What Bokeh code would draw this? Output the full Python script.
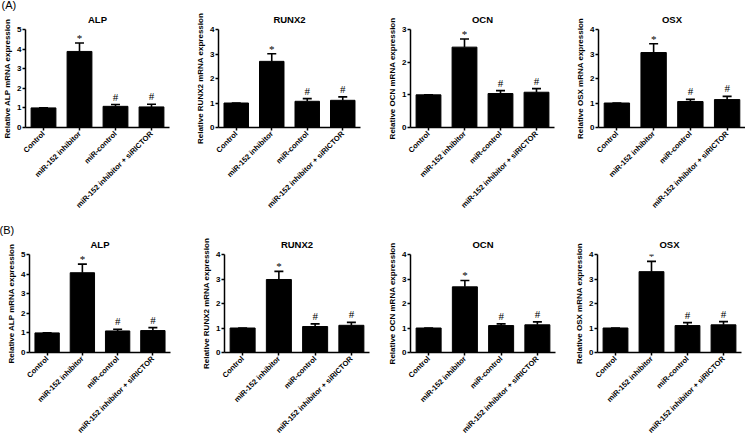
import math
from bokeh.plotting import figure
from bokeh.models import (Range1d, FactorRange, ColumnDataSource, Whisker,
                          TeeHead, LabelSet, FixedTicker, Title)
from bokeh.layouts import column, row
from bokeh.embed import file_html
from bokeh.resources import INLINE

categories = ["Control", "miR-152 inhibitor", "miR-control",
              "miR-152 inhibitor + siRICTOR"]
genes = ["ALP", "RUNX2", "OCN", "OSX"]
marks = ["", "*", "#", "#"]

# Panel (A)
a_alp_mean = [1.00, 3.88, 1.08, 1.05]
a_alp_sem = [0.00, 0.43, 0.09, 0.14]
a_runx2_mean = [1.00, 2.70, 1.07, 1.11]
a_runx2_sem = [0.00, 0.31, 0.11, 0.14]
a_ocn_mean = [1.00, 2.46, 1.04, 1.08]
a_ocn_sem = [0.00, 0.25, 0.09, 0.11]
a_osx_mean = [1.00, 3.06, 1.06, 1.14]
a_osx_sem = [0.00, 0.36, 0.09, 0.13]
a_ymax = [5, 4, 3, 4]

# Panel (B)
b_alp_mean = [1.00, 4.07, 1.10, 1.12]
b_alp_sem = [0.00, 0.44, 0.09, 0.15]
b_runx2_mean = [1.00, 2.98, 1.06, 1.11]
b_runx2_sem = [0.00, 0.33, 0.11, 0.12]
b_ocn_mean = [1.00, 2.68, 1.10, 1.13]
b_ocn_sem = [0.00, 0.26, 0.07, 0.12]
b_osx_mean = [1.00, 3.30, 1.10, 1.13]
b_osx_sem = [0.00, 0.42, 0.12, 0.13]
b_ymax = [5, 4, 4, 4]

FONT = "Liberation Sans"


def panel(gene, means, sems, ymax, fw, fh, left, right, top, bottom, tag=None):
    kw = {}
    if tag:
        kw["title"] = tag
    p = figure(x_range=FactorRange(*categories), y_range=Range1d(0, ymax),
               frame_width=fw, frame_height=fh,
               output_backend="svg", toolbar_location=None,
               min_border_left=left, min_border_right=right,
               min_border_top=top, min_border_bottom=bottom, **kw)
    p.xgrid.visible = False
    p.ygrid.visible = False
    p.outline_line_color = None
    p.background_fill_color = "white"
    p.border_fill_color = "white"

    if tag:
        # panel letter, outermost title, pulled to the top-left corner
        p.title.align = "left"
        p.title.offset = -(left + 1)
        p.title.standoff = -7
        p.title.text_font = FONT
        p.title.text_font_size = "11px"
        p.title.text_font_style = "normal"
        p.title.text_color = "black"

    p.add_layout(Title(text=gene, align="center", standoff=9,
                       text_font=FONT, text_font_size="9.5px",
                       text_font_style="bold", text_color="black"), "above")

    upper = [m + s for m, s in zip(means, sems)]
    yoff = [1 if m == "*" else 4 for m in marks]
    src = ColumnDataSource(dict(x=categories, top=means, upper=upper,
                                mark=marks, yoff=yoff))
    p.vbar(x="x", top="top", width=0.69, source=src, fill_color="black",
           line_color="black")
    p.add_layout(Whisker(base="x", lower="top", upper="upper", source=src,
                         line_width=1.6, line_color="black",
                         upper_head=TeeHead(size=9, line_width=1.6,
                                            line_color="black"),
                         lower_head=None))
    p.add_layout(LabelSet(x="x", y="upper", text="mark", source=src,
                          text_align="center", text_baseline="alphabetic",
                          y_offset="yoff", text_font=FONT,
                          text_font_size="11px", text_color="black"))

    ya = p.yaxis[0]
    ya.ticker = FixedTicker(ticks=list(range(ymax + 1)))
    ya.axis_label = "Relative %s mRNA expression" % gene
    ya.axis_label_text_font = FONT
    ya.axis_label_text_font_size = "8px"
    ya.axis_label_text_font_style = "bold"
    ya.axis_label_text_color = "black"
    ya.axis_label_standoff = 2
    ya.major_label_text_font = FONT
    ya.major_label_text_font_size = "8px"
    ya.major_label_text_font_style = "bold"
    ya.major_label_text_color = "black"
    ya.major_label_standoff = 1
    ya.axis_line_width = 1.5
    ya.axis_line_color = "black"
    ya.major_tick_line_width = 1.5
    ya.major_tick_line_color = "black"
    ya.major_tick_out = 3
    ya.major_tick_in = 0
    ya.minor_tick_line_color = None

    xa = p.xaxis[0]
    xa.major_label_orientation = math.pi / 4
    xa.major_label_text_font = FONT
    xa.major_label_text_font_size = "7.5px"
    xa.major_label_text_font_style = "bold"
    xa.major_label_text_color = "black"
    xa.major_label_standoff = 2
    xa.axis_line_width = 1.5
    xa.axis_line_color = "black"
    xa.major_tick_line_width = 1.5
    xa.major_tick_line_color = "black"
    xa.major_tick_out = 3
    xa.major_tick_in = 0
    xa.minor_tick_line_color = None
    return p


a_means = [a_alp_mean, a_runx2_mean, a_ocn_mean, a_osx_mean]
a_sems = [a_alp_sem, a_runx2_sem, a_ocn_sem, a_osx_sem]
b_means = [b_alp_mean, b_runx2_mean, b_ocn_mean, b_osx_mean]
b_sems = [b_alp_sem, b_runx2_sem, b_ocn_sem, b_osx_sem]

a_fw = [144, 142, 144, 147]
a_lefts = [23, 24, 24, 24]
a_rights = [24, 25, 19, 4]
b_fw = [141, 145, 145, 144]
b_lefts = [29, 24, 24, 24]
b_rights = [29, 16, 17, 6]

row_a = []
for i, g in enumerate(genes):
    row_a.append(panel(g, a_means[i], a_sems[i], a_ymax[i], a_fw[i], 98,
                       a_lefts[i], a_rights[i], 29, 98,
                       "(A)" if i == 0 else None))
row_b = []
for i, g in enumerate(genes):
    row_b.append(panel(g, b_means[i], b_sems[i], b_ymax[i], b_fw[i], 98,
                       b_lefts[i], b_rights[i], 29, 84,
                       "(B)" if i == 0 else None))

layout = column(row(*row_a, spacing=0), row(*row_b, spacing=0), spacing=0)
open("out.html", "w").write(file_html(layout, INLINE))
